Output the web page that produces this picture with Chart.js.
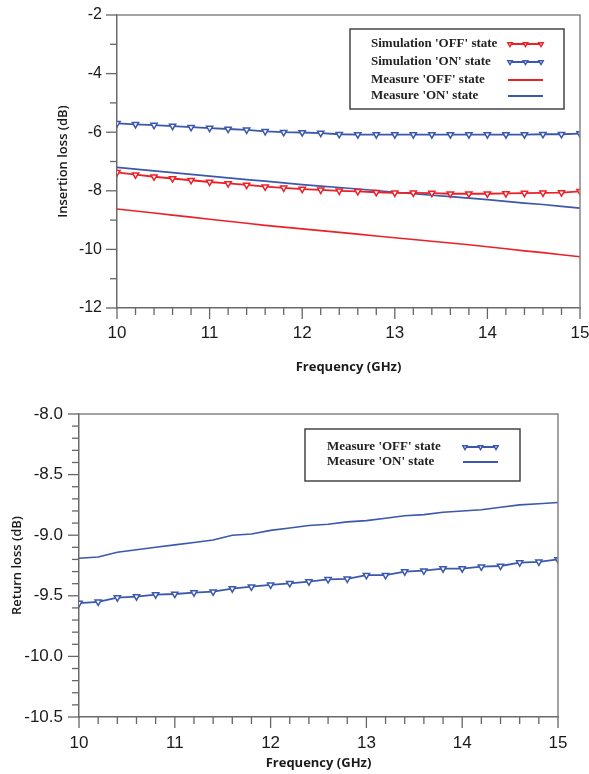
<!DOCTYPE html>
<html>
<head>
<meta charset="utf-8">
<script src="https://cdn.jsdelivr.net/npm/chart.js@4.4.1/dist/chart.umd.min.js"></script>
<style>
  html, body { margin: 0; padding: 0; background: #fff; }
  #topBox { position: absolute; left: 0; top: 0; width: 589px; height: 380px; }
  #botBox { position: absolute; left: 0; top: 390px; width: 589px; height: 384px; }
</style>
</head>
<body>
<div id="topBox"><canvas id="insChart"></canvas></div>
<div id="botBox"><canvas id="retChart"></canvas></div>
<script>
// frequency points (GHz)
const freq = [10, 10.2, 10.4, 10.6, 10.8, 11, 11.2, 11.4, 11.6, 11.8, 12, 12.2, 12.4,
  12.6, 12.8, 13, 13.2, 13.4, 13.6, 13.8, 14, 14.2, 14.4, 14.6, 14.8, 15];

// insertion loss (dB)
const simOff = [-7.37, -7.45, -7.52, -7.58, -7.64, -7.70, -7.75, -7.80, -7.86, -7.90, -7.94, -7.97, -8.00,
  -8.02, -8.05, -8.07, -8.07, -8.08, -8.10, -8.10, -8.10, -8.09, -8.08, -8.07, -8.06, -8.02];
const simOn = [-5.70, -5.73, -5.76, -5.79, -5.83, -5.86, -5.89, -5.92, -5.97, -6.00, -6.01, -6.03, -6.07,
  -6.08, -6.08, -6.08, -6.08, -6.08, -6.08, -6.08, -6.08, -6.08, -6.08, -6.07, -6.07, -6.05];
const measOff = [-8.62, -8.69, -8.76, -8.83, -8.90, -8.97, -9.04, -9.11, -9.18, -9.24, -9.30, -9.36, -9.42,
  -9.48, -9.54, -9.60, -9.66, -9.72, -9.78, -9.84, -9.91, -9.98, -10.05, -10.11, -10.18, -10.25];
const measOn = [-7.20, -7.26, -7.32, -7.38, -7.44, -7.50, -7.56, -7.62, -7.67, -7.73, -7.79, -7.84, -7.89,
  -7.94, -7.99, -8.05, -8.10, -8.15, -8.20, -8.25, -8.30, -8.36, -8.42, -8.47, -8.53, -8.59];

// return loss (dB)
const rlOff = [-9.56, -9.55, -9.515, -9.507, -9.49, -9.485, -9.474, -9.466, -9.44, -9.425, -9.41, -9.397, -9.383,
  -9.364, -9.36, -9.33, -9.33, -9.30, -9.293, -9.275, -9.275, -9.26, -9.254, -9.226, -9.22, -9.20];
const rlOn = [-9.19, -9.18, -9.14, -9.12, -9.10, -9.08, -9.06, -9.04, -9.00, -8.99, -8.96, -8.94, -8.92,
  -8.91, -8.89, -8.88, -8.86, -8.84, -8.83, -8.81, -8.80, -8.79, -8.77, -8.75, -8.74, -8.73];

const RED = '#ec2027';
const BLUE = '#3a58ad';

const pts = arr => freq.map((f, i) => ({ x: f, y: arr[i] }));

function markerSet(label, color, arr) {
  return {
    label: label, data: pts(arr), borderColor: color, borderWidth: 1.8,
    pointStyle: 'triangle', rotation: 180, pointRadius: 3.6,
    pointBackgroundColor: '#fff', pointBorderColor: color, pointBorderWidth: 1.5,
    tension: 0
  };
}
function lineSet(label, color, arr) {
  return { label: label, data: pts(arr), borderColor: color, borderWidth: 1.6, pointRadius: 0, tension: 0 };
}

function downTri(ctx, x, y, r) {
  ctx.beginPath();
  ctx.moveTo(x - r * 0.87, y - r * 0.5);
  ctx.lineTo(x + r * 0.87, y - r * 0.5);
  ctx.lineTo(x, y + r);
  ctx.closePath();
}

// frame, minor/major ticks and a boxed legend inside the plot
const decor = {
  id: 'decor',
  afterDraw(chart, args, o) {
    const { ctx, chartArea: a, scales: { x, y } } = chart;
    ctx.save();
    ctx.strokeStyle = '#858585';
    ctx.lineWidth = 1.5;
    ctx.beginPath();
    ctx.moveTo(a.left, a.top);
    ctx.lineTo(a.right, a.top);
    ctx.lineTo(a.right, a.bottom);
    ctx.stroke();

    ctx.strokeStyle = '#666';
    ctx.lineWidth = 1.3;
    const nx = Math.round((x.max - x.min) / o.xMinor);
    for (let i = 0; i <= nx; i++) {
      const v = x.min + i * o.xMinor;
      const major = Math.abs(v / o.xMajor - Math.round(v / o.xMajor)) < 1e-6;
      const px = x.getPixelForValue(v);
      ctx.beginPath();
      ctx.moveTo(px, a.bottom);
      ctx.lineTo(px, a.bottom + (major ? 11 : 7));
      ctx.stroke();
    }
    const ny = Math.round((y.max - y.min) / o.yMinor);
    for (let i = 0; i <= ny; i++) {
      const v = y.min + i * o.yMinor;
      const major = Math.abs(v / o.yMajor - Math.round(v / o.yMajor)) < 1e-6;
      const py = y.getPixelForValue(v);
      ctx.beginPath();
      ctx.moveTo(a.left, py);
      ctx.lineTo(a.left - (major ? 11 : 7), py);
      ctx.stroke();
    }

    // legend
    const L = o.legend;
    ctx.fillStyle = '#fff';
    ctx.fillRect(L.x, L.y, L.w, L.h);
    ctx.strokeStyle = '#444';
    ctx.lineWidth = 1.5;
    ctx.strokeRect(L.x, L.y, L.w, L.h);
    ctx.font = 'bold 13px "Liberation Serif"';
    ctx.textBaseline = 'middle';
    ctx.textAlign = 'left';
    chart.data.datasets.forEach((ds, i) => {
      const ry = L.rows[i];
      ctx.fillStyle = '#222';
      ctx.fillText(ds.label, L.textX, ry);
      ctx.strokeStyle = ds.borderColor;
      ctx.lineWidth = 1.8;
      ctx.beginPath();
      ctx.moveTo(L.s0, ry);
      ctx.lineTo(L.s1, ry);
      ctx.stroke();
      if (ds.pointRadius > 0) {
        ctx.fillStyle = '#fff';
        ctx.lineWidth = 1.4;
        [L.s0 + 2, (L.s0 + L.s1) / 2, L.s1 - 2].forEach(mx => {
          downTri(ctx, mx, ry, 2.6);
          ctx.fill();
          ctx.stroke();
        });
      }
    });
    ctx.restore();
  }
};

function axisOpts(min, max, step, fmt, tickFont, pad, size, title, titleFont, titlePad, horiz) {
  return {
    type: 'linear', min: min, max: max,
    grid: { display: false, drawTicks: false },
    border: { display: true, color: '#6a6a6a', width: 1.5 },
    ticks: { stepSize: step, color: '#1a1a1a', font: { size: tickFont }, padding: pad, callback: fmt },
    title: { display: true, text: title, color: '#1a1a1a', font: titleFont, padding: titlePad },
    afterFit(s) {
      if (horiz) { s.height = size; s.paddingLeft = 0; s.paddingRight = 0; }
      else { s.width = size; s.paddingTop = 0; s.paddingBottom = 0; }
    }
  };
}

const yTitleFont = { family: '"Open Sans"', size: 13, weight: '600' };
const xTitleFont = { family: '"Open Sans"', size: 13, weight: 'bold' };

Chart.defaults.font.family = '"Liberation Sans", Arial, sans-serif';
Chart.defaults.animation = false;

new Chart(document.getElementById('insChart'), {
  type: 'line',
  data: {
    datasets: [
      markerSet("Simulation 'OFF' state", RED, simOff),
      markerSet("Simulation 'ON' state", BLUE, simOn),
      lineSet("Measure 'OFF' state", RED, measOff),
      lineSet("Measure 'ON' state", BLUE, measOn)
    ]
  },
  options: {
    responsive: true,
    maintainAspectRatio: false,
    layout: { padding: { top: 15, right: 9, left: 0, bottom: 0 } },
    plugins: {
      legend: { display: false },
      tooltip: { enabled: false },
      decor: {
        xMinor: 0.2, xMajor: 1, yMinor: 1, yMajor: 2,
        legend: { x: 350, y: 29, w: 214, h: 80, textX: 371, s0: 508, s1: 543, rows: [44, 62, 80, 96] }
      }
    },
    scales: {
      x: axisOpts(10, 15, 1, v => v, 17, 15, 72, 'Frequency (GHz)', xTitleFont, { top: 0, bottom: 5 }, true),
      y: axisOpts(-12, -2, 2, v => v, 16, 15, 117, 'Insertion loss (dB)', yTitleFont, { top: 55, bottom: 0 }, false)
    }
  },
  plugins: [decor]
});

new Chart(document.getElementById('retChart'), {
  type: 'line',
  data: {
    datasets: [
      markerSet("Measure 'OFF' state", BLUE, rlOff),
      lineSet("Measure 'ON' state", BLUE, rlOn)
    ]
  },
  options: {
    responsive: true,
    maintainAspectRatio: false,
    layout: { padding: { top: 24, right: 31, left: 0, bottom: 0 } },
    plugins: {
      legend: { display: false },
      tooltip: { enabled: false },
      decor: {
        xMinor: 0.2, xMajor: 1, yMinor: 0.1, yMajor: 0.5,
        legend: { x: 305, y: 39, w: 215, h: 52, textX: 327, s0: 463, s1: 498, rows: [57, 72] }
      }
    },
    scales: {
      x: axisOpts(10, 15, 1, v => v, 17, 16, 57, 'Frequency (GHz)', xTitleFont, { top: 0, bottom: 3 }, true),
      y: axisOpts(-10.5, -8, 0.5, v => v.toFixed(1), 17, 16, 79, 'Return loss (dB)', yTitleFont, { top: 9, bottom: 0 }, false)
    }
  },
  plugins: [decor]
});
</script>
</body>
</html>
